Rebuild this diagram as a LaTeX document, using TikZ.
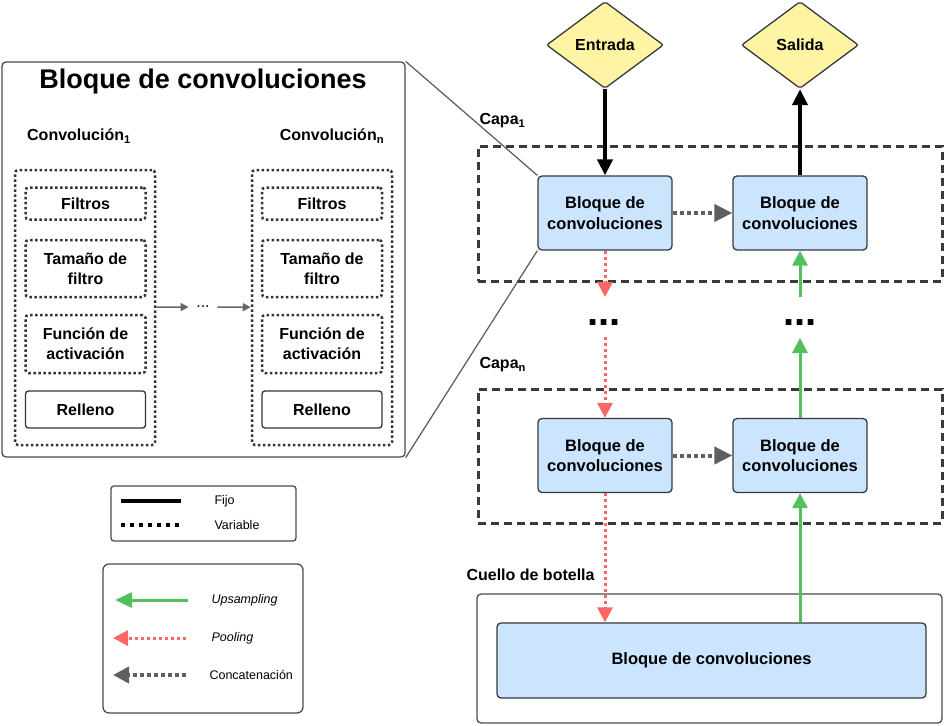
\documentclass[tikz,border=0pt]{standalone}
\usepackage{fontspec}
\setmainfont{Liberation Sans}
\usetikzlibrary{arrows.meta,positioning,shapes.geometric}

\definecolor{bloqueazul}{HTML}{CCE5FF}
\definecolor{bordegris}{HTML}{36393D}
\definecolor{romboamarillo}{HTML}{FFF4A3}
\definecolor{poolrojo}{HTML}{FF6666}
\definecolor{upverde}{HTML}{52C05B}
\definecolor{concatgris}{HTML}{5F5F5F}

\tikzset{
  bloque/.style={draw=bordegris,fill=bloqueazul,line width=1.3pt,rounded corners=4pt,minimum width=134pt,minimum height=74pt,align=center,font=\fontsize{16.5}{20.5}\selectfont\bfseries},
  rombo/.style={diamond,aspect=1.34,draw=bordegris,fill=romboamarillo,line width=1.3pt,rounded corners=2pt,minimum width=117pt,minimum height=87pt,inner sep=0pt,font=\fontsize{16}{19}\selectfont\bfseries},
  capa/.style={draw=bordegris,dash pattern=on 8pt off 5pt,line width=3pt},
  marco/.style={draw=black!70,rounded corners=4pt,line width=1.3pt},
  punteada/.style={draw=black!80,dash pattern=on 2.5pt off 2.5pt,line width=2.5pt,rounded corners=3pt,align=center,font=\fontsize{16}{20}\selectfont\bfseries},
  relleno/.style={draw=black!80,line width=1.3pt,rounded corners=3pt,font=\fontsize{16}{20}\selectfont\bfseries},
  etiqueta/.style={font=\fontsize{16}{19}\selectfont\bfseries},
  leyenda/.style={anchor=west,font=\fontsize{12.5}{15}\selectfont},
  fijo/.style={line width=4pt,-{Triangle[length=16pt,width=15pt]}},
  pool/.style={poolrojo,line width=3pt,dash pattern=on 3pt off 3pt,-{Triangle[length=15pt,width=15pt]}},
  upsamp/.style={upverde,line width=3pt,-{Triangle[length=15pt,width=15pt]}},
  concat/.style={concatgris,line width=4pt,dash pattern=on 4pt off 3pt,-{Triangle[length=18pt,width=17pt]}},
  pasito/.style={black!60,line width=1.5pt,-{Triangle[length=8pt,width=8pt]}}
}

\begin{document}
\begin{tikzpicture}[x=1pt,y=-1pt]

\useasboundingbox (0,0) rectangle (944,725);

\node[marco,minimum width=403pt,minimum height=395pt] (zoombox) at (203.5,259.5) {};
\node[font=\fontsize{27}{32}\selectfont\bfseries] (titulo) at (203,82) {Bloque de convoluciones};
\node[etiqueta] (conv1) at (79,136) {Convolución\textsubscript{1}};
\node[etiqueta] (convn) at (332,136) {Convolución\textsubscript{n}};

\node[punteada,minimum width=140pt,minimum height=275pt] (col1) at (85,307.5) {};
\node[punteada,minimum width=120pt,minimum height=32pt] (filtros1) at (85.5,203.5) {Filtros};
\node[punteada,minimum width=120pt,minimum height=57pt] (tam1) at (85.5,268.5) {Tamaño de\\filtro};
\node[punteada,minimum width=120pt,minimum height=58pt] (act1) at (85.5,344) {Función de\\activación};
\node[relleno,minimum width=120pt,minimum height=37pt] (rell1) at (85.5,409.5) {Relleno};

\node[punteada,minimum width=140pt,minimum height=275pt] (coln) at (322,307.5) {};
\node[punteada,minimum width=120pt,minimum height=32pt] (filtrosn) at (322,203.5) {Filtros};
\node[punteada,minimum width=120pt,minimum height=57pt] (tamn) at (322,268.5) {Tamaño de\\filtro};
\node[punteada,minimum width=120pt,minimum height=58pt] (actn) at (322,344) {Función de\\activación};
\node[relleno,minimum width=120pt,minimum height=37pt] (relln) at (322,409.5) {Relleno};

\node[inner sep=7.5pt,font=\fontsize{16}{19}\selectfont] (puntos) at (203,307) {...};
\draw[pasito] (col1) -- (puntos);
\draw[pasito] (puntos) -- (coln);

\node[rombo] (entrada) at (605,45) {Entrada};
\node[rombo] (salida) at (800,45) {Salida};

\node[capa,minimum width=464pt,minimum height=135pt] (capa1box) at (710,213.5) {};
\node[etiqueta,anchor=west] (capa1) at (476,121) {Capa\textsubscript{1}};
\node[bloque] (b11) at (605,213) {Bloque de\\convoluciones};
\node[bloque] (b12) at (800,213) {Bloque de\\convoluciones};

\draw[black!65,line width=1.2pt] (zoombox.north east) -- (b11.north west);
\draw[black!65,line width=1.2pt] (zoombox.south east) -- (b11.south west);

\node[capa,minimum width=464pt,minimum height=134pt] (capanbox) at (710,456) {};
\node[etiqueta,anchor=west] (capan) at (476,365) {Capa\textsubscript{n}};
\node[bloque] (bn1) at (605,455.5) {Bloque de\\convoluciones};
\node[bloque] (bn2) at (800,455.5) {Bloque de\\convoluciones};

\node[marco,minimum width=465pt,minimum height=129pt] (cuellobox) at (709.5,658.5) {};
\node[etiqueta,anchor=west] (cuello) at (463,575) {Cuello de botella};
\node[bloque,minimum width=429pt,minimum height=75pt] (cuellobloque) at (711.5,660.5) {Bloque de convoluciones};

\node[font=\fontsize{40}{40}\selectfont\bfseries] (puntosL) at (604,323) {...};
\node[font=\fontsize{40}{40}\selectfont\bfseries] (puntosR) at (800,323) {...};
\coordinate (poolfin) at (605,297);
\coordinate (poolini) at (605,337);
\coordinate (upini) at (800,297);
\coordinate (upfin) at (800,338);

\draw[fijo] (entrada) -- (b11);
\draw[fijo] (b12) -- (salida);
\draw[concat] (b11) -- (b12);
\draw[pool] (b11) -- (poolfin);
\draw[pool] (poolini) -- (bn1);
\draw[concat] (bn1) -- (bn2);
\draw[pool] (bn1) -- (bn1 |- cuellobloque.north);
\draw[upsamp] (upini) -- (b12);
\draw[upsamp] (bn2) -- (upfin);
\draw[upsamp] (bn2 |- cuellobloque.north) -- (bn2);

\node[marco,rounded corners=3pt,minimum width=185pt,minimum height=55pt] (ley1) at (203.5,513.5) {};
\coordinate (fijoA) at (121,501);
\coordinate (fijoB) at (181,501);
\coordinate (varA) at (121,525);
\coordinate (varB) at (181,525);
\draw[line width=4pt] (fijoA) -- (fijoB);
\draw[line width=4pt,dash pattern=on 4pt off 5pt] (varA) -- (varB);
\node[leyenda] (txtfijo) at (211,501) {Fijo};
\node[leyenda] (txtvar) at (211,525) {Variable};

\node[marco,rounded corners=6pt,minimum width=200pt,minimum height=149pt] (ley2) at (203,638.5) {};
\coordinate (upA) at (188,600);
\coordinate (upB) at (115,600);
\coordinate (poolA) at (186,638);
\coordinate (poolB) at (113,638);
\coordinate (catA) at (186,675);
\coordinate (catB) at (113,675);
\draw[upsamp,-{Triangle[length=17pt,width=15pt]}] (upA) -- (upB);
\draw[pool] (poolA) -- (poolB);
\draw[concat,-{Triangle[length=16pt,width=16pt]}] (catA) -- (catB);
\node[leyenda,font=\fontsize{12.5}{15}\selectfont\itshape] (txtup) at (208,600) {Upsampling};
\node[leyenda,font=\fontsize{12.5}{15}\selectfont\itshape] (txtpool) at (208,638) {Pooling};
\node[leyenda] (txtcat) at (206,675) {Concatenación};

\end{tikzpicture}
\end{document}
